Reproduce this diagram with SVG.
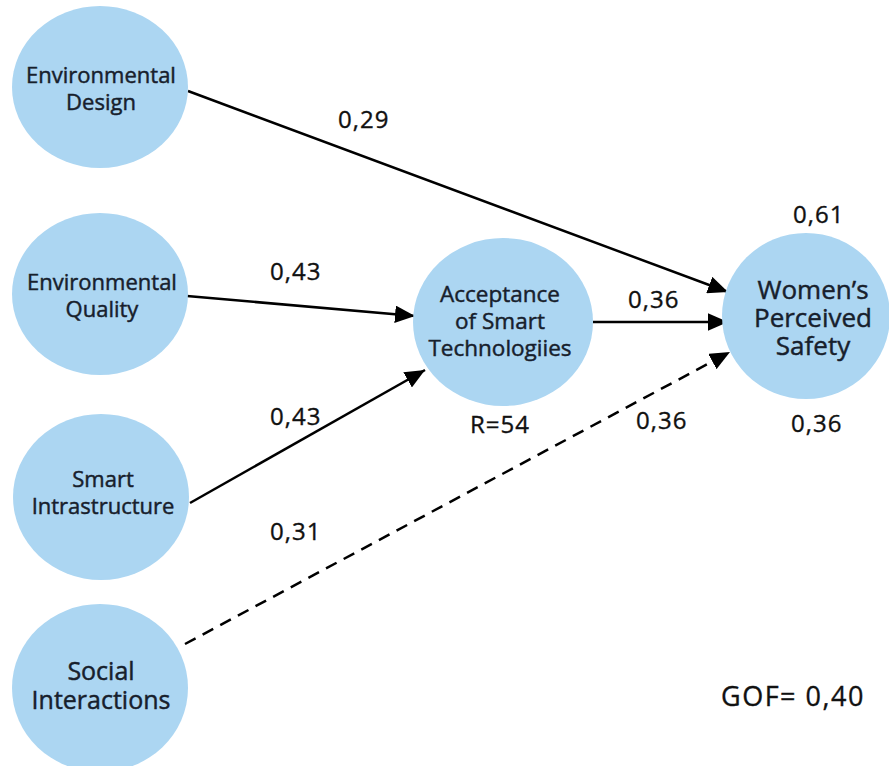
<svg xmlns="http://www.w3.org/2000/svg" width="889" height="766" viewBox="0 0 889 766">
<style>
.node{fill:#acd6f2}
.lbl{font-family:"Open Sans","DejaVu Sans",sans-serif;fill:#17202c;stroke:#17202c;stroke-width:0.45;text-anchor:middle}
.num{font-family:"Open Sans","DejaVu Sans",sans-serif;fill:#111;stroke:#111;stroke-width:0.35;font-size:24px;letter-spacing:1px}
.gof{font-size:27px;letter-spacing:1.5px}
.edge{stroke:#000;stroke-width:2.5;fill:none}
.dash{stroke-dasharray:12 8}
</style>
<defs>
<marker id="arr" viewBox="0 0 10 10" refX="10" refY="5" markerWidth="8" markerHeight="7" orient="auto" markerUnits="strokeWidth" preserveAspectRatio="none">
<path d="M0,0 L10,5 L0,10 Z" fill="#000"/>
</marker>
</defs>
<rect width="889" height="766" fill="#fff"/>
<g id="connectors">
<line class="edge" x1="188" y1="91" x2="728" y2="292" marker-end="url(#arr)"/>
<line class="edge" x1="187" y1="296" x2="415" y2="316" marker-end="url(#arr)"/>
<line class="edge" x1="190" y1="503" x2="425" y2="370" marker-end="url(#arr)"/>
<line class="edge" x1="593" y1="322" x2="728" y2="322" marker-end="url(#arr)"/>
<line class="edge dash" x1="185" y1="644" x2="730" y2="352" marker-end="url(#arr)"/>
</g>
<g id="n-env-design">
<ellipse class="node" cx="100" cy="87" rx="88" ry="81"/>
<text class="lbl" font-size="22"><tspan x="101" y="83">Environmental</tspan><tspan x="101" y="110">Design</tspan></text>
</g>
<g id="n-env-quality">
<ellipse class="node" cx="100" cy="294" rx="88" ry="81"/>
<text class="lbl" font-size="22"><tspan x="102" y="290">Environmental</tspan><tspan x="102" y="317">Quality</tspan></text>
</g>
<g id="n-smart-infra">
<ellipse class="node" cx="101" cy="497" rx="88" ry="83"/>
<text class="lbl" font-size="22"><tspan x="103" y="487">Smart</tspan><tspan x="103" y="514">Intrastructure</tspan></text>
</g>
<g id="n-social">
<ellipse class="node" cx="100" cy="688" rx="88" ry="84"/>
<text class="lbl" font-size="25"><tspan x="101" y="680">Social</tspan><tspan x="101" y="709">Interactions</tspan></text>
</g>
<g id="n-acceptance">
<ellipse class="node" cx="503" cy="322" rx="90" ry="84"/>
<text class="lbl" font-size="22.5"><tspan x="500" y="302">Acceptance</tspan><tspan x="500" y="329">of Smart</tspan><tspan x="500" y="356">Technologiies</tspan></text>
</g>
<g id="n-women">
<ellipse class="node" cx="806" cy="316" rx="84" ry="83"/>
<text class="lbl" font-size="26"><tspan x="813" y="299">Women’s</tspan><tspan x="813" y="327">Perceived</tspan><tspan x="813" y="355">Safety</tspan></text>
</g>
<g id="labels">
<text class="num" x="338" y="128">0,29</text>
<text class="num" x="270" y="280">0,43</text>
<text class="num" x="270" y="425">0,43</text>
<text class="num" x="270" y="540">0,31</text>
<text class="num" x="628" y="308">0,36</text>
<text class="num" x="636" y="429">0,36</text>
<text class="num" x="470" y="433">R=54</text>
<text class="num" x="793" y="223">0,61</text>
<text class="num" x="791" y="432">0,36</text>
<text class="num gof" x="721" y="706">GOF= 0,40</text>
</g>
</svg>
